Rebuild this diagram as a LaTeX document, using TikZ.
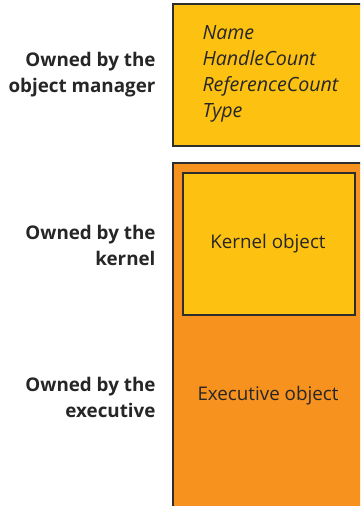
\documentclass[tikz,border=0pt]{standalone}
\usepackage{fontspec}
\setmainfont{Open Sans}
\usepackage{tikz}
\usetikzlibrary{positioning}
\definecolor{headeryellow}{HTML}{FCC111}
\definecolor{bodyorange}{HTML}{F7921E}
\definecolor{edgegray}{HTML}{2E2E2E}
\definecolor{textgray}{HTML}{262626}

\begin{document}
\begin{tikzpicture}[x=1pt,y=1pt,
  ownerlabel/.style={font=\fontsize{18.8}{26}\selectfont\bfseries, color=textgray, align=right, anchor=east},
  fieldlabel/.style={font=\fontsize{19.6}{26}\selectfont\itshape, color=textgray, align=left, anchor=west},
  objlabel/.style={font=\fontsize{18.8}{26}\selectfont, color=textgray}]
\useasboundingbox (0,0) rectangle (360,506);
\clip (0,0) rectangle (360,506);

% object header
\draw[draw=edgegray, line width=2.8pt, fill=headeryellow] (173,502) rectangle (370,360);
\node[fieldlabel] (fields) at (199,432) {Name\\HandleCount\\ReferenceCount\\Type};

% object body
\draw[draw=edgegray, line width=2.8pt, fill=bodyorange] (173,343) rectangle (370,-10);
\draw[draw=edgegray, line width=2.8pt, fill=headeryellow] (183,333) rectangle (355,191);
\node[objlabel] (kernobj) at (268,262) {Kernel object};
\node[objlabel] (execobj) at (268,110) {Executive object};

% owners
\node[ownerlabel] (objmgr) at (159,431) {Owned by the\\object manager};
\node[ownerlabel] (kern) at (159,261) {Owned by the\\kernel};
\node[ownerlabel] (exec) at (159,109) {Owned by the\\executive};
\end{tikzpicture}
\end{document}
